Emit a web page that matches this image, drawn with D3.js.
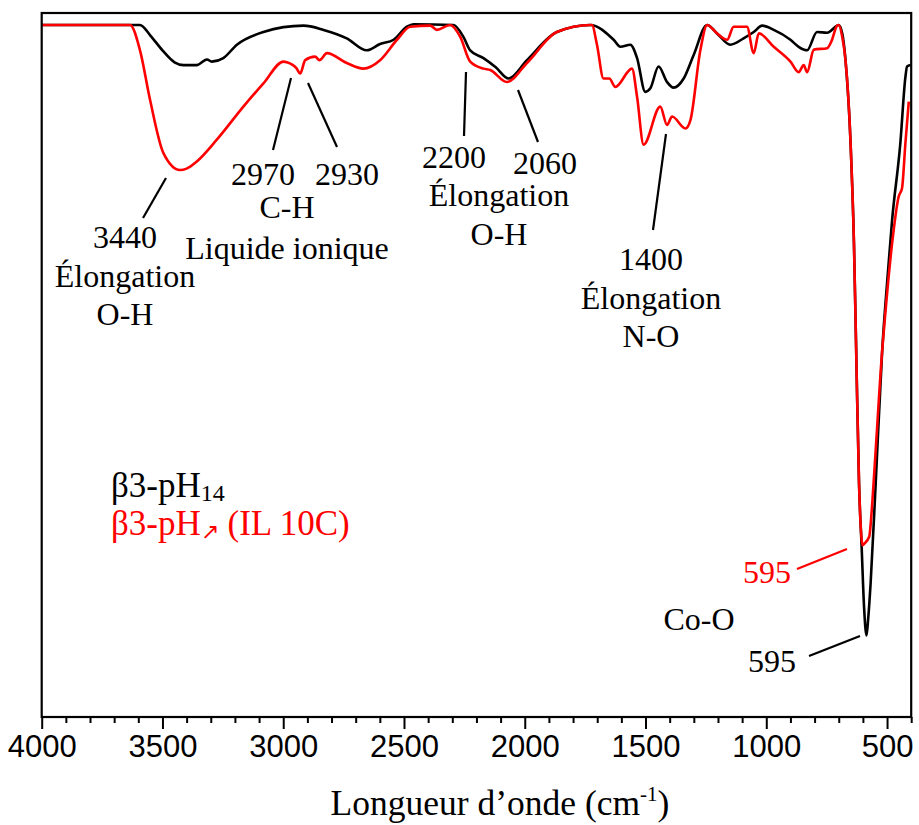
<!DOCTYPE html>
<html>
<head>
<meta charset="utf-8">
<script src="https://cdn.jsdelivr.net/npm/d3@7/dist/d3.min.js"></script>
<style>
  html, body { margin: 0; padding: 0; background: #fff; }
  svg { display: block; }
</style>
</head>
<body>
<svg id="chart" width="919" height="825"></svg>
<script>
// ---------------- DATA ----------------
// wavenumbers (cm-1) and transmittance (%)
const blackWave = [4000,3650,3593,3550,3500,3450,3413,3358,3316,3296,3248,3192,3082,2916,2833,2737,2654,2599,2543,2488,2461,2295,2254,2226,2171,2120,2067,1991,1867,1729,1632,1604,1563,1535,1501,1480,1446,1411,1384,1342,1301,1245,1204,1149,1094,1052,1017,969,900,866,831,790,748,707,700,685,672,651,637,627,616,605,595,585,578,568,547,520,498,479,445,424,417,403];
const blackVal  = [98.3,98.3,98.3,96.8,94.7,93.0,92.6,92.6,93.4,93.1,93.6,95.5,97.3,98.2,97.6,96.4,94.7,95.6,96.2,98.05,98.4,98.3,96.6,94.7,93.6,92.3,90.7,93.3,97.3,98.3,96.2,95.2,95.5,93.6,88.8,89.3,92.4,90.2,89.4,90.7,94.0,98.3,97.1,95.5,96.4,97.3,98.2,97.6,96.2,95.2,94.7,97.3,97.2,98.2,98.3,97.0,93.3,81.5,67.3,50.7,33.2,24.0,15.5,11.6,14.0,19.0,33.2,52.1,62.5,70.6,81.5,90.9,92.4,92.6];

const redWave = [4000,3634,3593,3551,3496,3427,3400,3358,3275,3165,3082,2999,2985,2944,2930,2909,2868,2850,2819,2737,2668,2599,2529,2474,2391,2364,2309,2267,2226,2171,2143,2074,1991,1867,1729,1722,1701,1674,1650,1625,1556,1535,1508,1439,1411,1390,1335,1314,1273,1245,1204,1162,1135,1080,1052,1031,969,900,866,845,831,803,748,730,707,700,685,672,651,637,627,616,606,602,595,574,560,547,520,512,479,452,438,424,410];
const redVal  = [98.3,98.3,94.7,87.6,80.1,77.7,77.9,78.9,82.0,86.7,90.0,93.1,93.0,92.1,91.4,93.3,93.8,93.3,94.3,92.9,92.1,93.3,96.2,98.05,98.2,97.6,98.3,96.6,93.1,92.1,91.9,90.2,92.9,97.3,98.3,98.3,95.5,90.7,90.7,89.5,92.1,88.1,81.3,86.7,84.1,85.3,83.6,84.8,94.7,98.3,97.1,96.2,98.05,98.05,94.3,97.1,95.2,93.1,91.6,92.6,91.6,94.8,95.0,96.0,98.2,98.3,96.5,93.3,81.5,67.3,50.7,33.2,25.5,24.4,24.6,25.6,31.0,37.9,52.1,55.4,67.3,73.9,75.1,81.5,87.4];

const majorTicks = [4000,3500,3000,2500,2000,1500,1000,500];
const minorTicks = d3.range(4000, 399, -100).filter(d => d % 500 !== 0);

const axisTitle = "Longueur d’onde (cm";
const axisTitleSup = "-1";

const annotations = [
  {lines:["3440","Élongation","O-H"], x:125, y:248, color:"#000"},
  {lines:["2970"], x:263, y:185, color:"#000"},
  {lines:["2930"], x:347, y:185, color:"#000"},
  {lines:["C-H"], x:287, y:218, color:"#000"},
  {lines:["Liquide ionique"], x:287, y:259, color:"#000"},
  {lines:["2200"], x:454, y:168, color:"#000"},
  {lines:["2060"], x:545, y:174, color:"#000"},
  {lines:["Élongation","O-H"], x:499, y:206, color:"#000"},
  {lines:["1400","Élongation","N-O"], x:651, y:270, color:"#000"},
  {lines:["595"], x:767, y:583, color:"#ff0000"},
  {lines:["Co-O"], x:699, y:630, color:"#000"},
  {lines:["595"], x:772, y:672, color:"#000"}
];
const leaders = [
  {x1:166,y1:178,x2:143,y2:218,color:"#000"},
  {x1:291,y1:78,x2:273,y2:150,color:"#000"},
  {x1:308,y1:83,x2:337,y2:147,color:"#000"},
  {x1:466,y1:72,x2:464,y2:136,color:"#000"},
  {x1:518,y1:90,x2:538,y2:142,color:"#000"},
  {x1:666,y1:134,x2:653,y2:230,color:"#000"},
  {x1:797,y1:569,x2:847,y2:549,color:"#ff0000"},
  {x1:809,y1:656,x2:860,y2:636,color:"#000"}
];

// ---------------- DRAW ----------------
const svg = d3.select("#chart");
const pL = 41.7, pR = 911.2, pT = 13, pB = 717;

const x = d3.scaleLinear().domain([4000, 400]).range([pL, pR]);
const y = d3.scaleLinear().domain([0, 100]).range([pB, pT]);

const serif = "'Liberation Serif','Times New Roman',serif";
const sans = "'Liberation Sans',Arial,sans-serif";

const gx = svg.append("g").attr("transform", `translate(0,${pB})`);
gx.call(d3.axisBottom(x).tickValues(minorTicks).tickSize(6).tickFormat(""))
  .call(g => g.select(".domain").remove())
  .call(g => g.selectAll("line").attr("stroke", "#000").attr("stroke-width", 2));
const gx2 = svg.append("g").attr("transform", `translate(0,${pB})`);
gx2.call(d3.axisBottom(x).tickValues(majorTicks).tickSize(12).tickPadding(6).tickFormat(d3.format("d")))
  .call(g => g.select(".domain").remove())
  .call(g => g.selectAll("line").attr("stroke", "#000").attr("stroke-width", 2))
  .call(g => g.selectAll("text").attr("font-family", sans).attr("font-size", 31).attr("fill", "#000"));

const line = d3.line().x(d => x(d[0])).y(d => y(d[1])).curve(d3.curveMonotoneX);
const blackData = blackWave.map((w, i) => [w, blackVal[i]]);
const redData = redWave.map((w, i) => [w, redVal[i]]);

svg.append("path").datum(blackData).attr("d", line)
  .attr("fill", "none").attr("stroke", "#000").attr("stroke-width", 2.6).attr("stroke-linejoin", "round");
svg.append("path").datum(redData).attr("d", line)
  .attr("fill", "none").attr("stroke", "#ff0000").attr("stroke-width", 2.6).attr("stroke-linejoin", "round");

svg.append("rect").attr("x", pL).attr("y", pT).attr("width", pR - pL).attr("height", pB - pT)
  .attr("fill", "none").attr("stroke", "#000").attr("stroke-width", 2.2);

svg.selectAll(".leader").data(leaders).enter().append("line")
  .attr("x1", d => d.x1).attr("y1", d => d.y1).attr("x2", d => d.x2).attr("y2", d => d.y2)
  .attr("stroke", d => d.color).attr("stroke-width", 2.2);

annotations.forEach(a => {
  const t = svg.append("text").attr("font-family", serif).attr("font-size", 32)
    .attr("fill", a.color).attr("text-anchor", "middle");
  a.lines.forEach((s, i) => {
    t.append("tspan").attr("x", a.x).attr("y", a.y + i * 38.5).text(s);
  });
});

const leg1 = svg.append("text").attr("x", 111).attr("y", 497).attr("font-family", serif)
  .attr("font-size", 35).attr("fill", "#000");
leg1.append("tspan").text("β3-pH");
leg1.append("tspan").attr("dy", 4).attr("font-size", 24).text("14");

const leg2 = svg.append("text").attr("x", 111).attr("y", 535).attr("font-family", serif)
  .attr("font-size", 35).attr("fill", "#ff0000");
leg2.append("tspan").text("β3-pH");
leg2.append("tspan").attr("dy", 4).attr("font-size", 22).text("↗");
leg2.append("tspan").attr("dy", -4).text(" (IL 10C)");

const title = svg.append("text").attr("x", 500).attr("y", 815)
  .attr("text-anchor", "middle").attr("font-family", serif).attr("font-size", 35.5).attr("fill", "#000");
title.append("tspan").text(axisTitle);
title.append("tspan").attr("dy", -14).attr("font-size", 21).text(axisTitleSup);
title.append("tspan").attr("dy", 14).text(")");
</script>
</body>
</html>
